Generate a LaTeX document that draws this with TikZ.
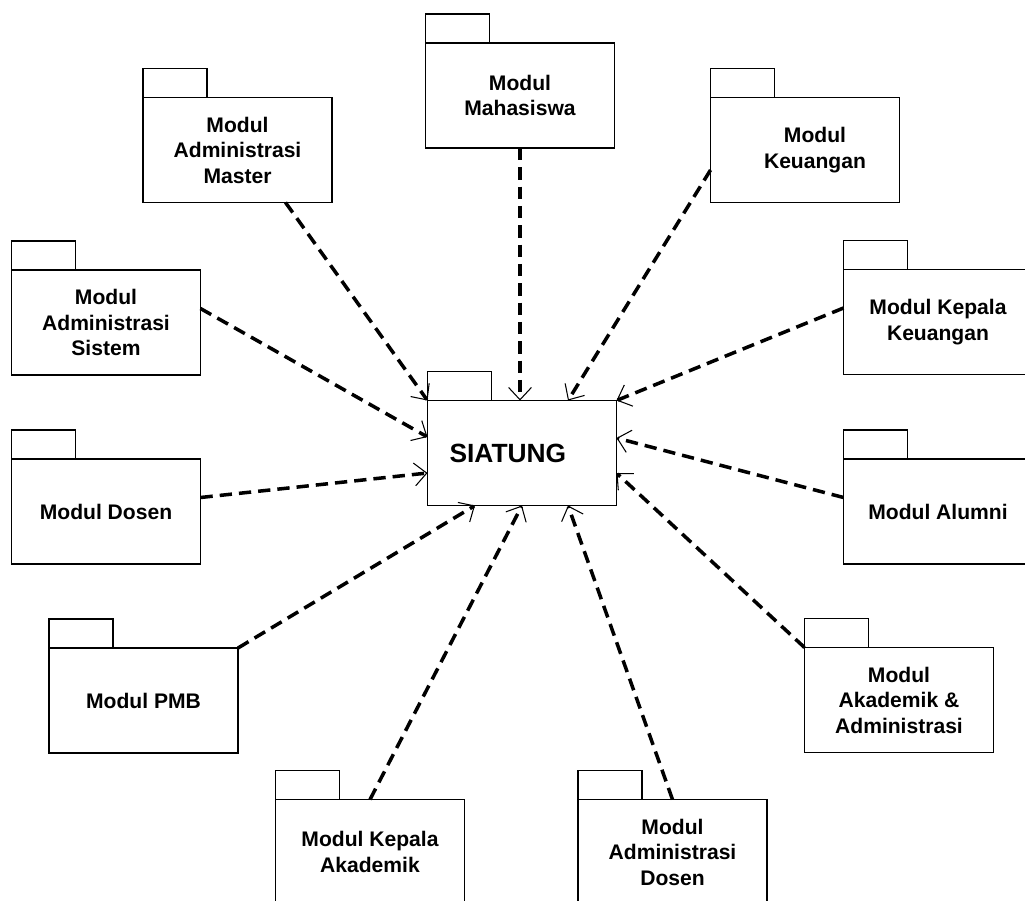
\documentclass[tikz,border=0pt]{standalone}
\usepackage{fontspec}
\setmainfont{Liberation Sans}
\usetikzlibrary{arrows.meta,calc}

\begin{document}
\begin{tikzpicture}[
  x=0.02cm, y=-0.02cm,
  font=\bfseries\fontsize{12}{14.5}\selectfont,
  pkg/.style={draw, line width=1pt, fill=white, align=center, outer sep=0pt,
              minimum width=3.78cm, minimum height=2.1cm, inner sep=2pt},
  core/.style={pkg, font=\bfseries\fontsize{15}{18}\selectfont,
               text width=2.9cm, align=left, inner xsep=0.44cm},
  tab/.style={draw, line width=1pt},
  dep/.style={line width=2pt, dash pattern=on 7pt off 4pt,
              -{Straight Barb[length=7pt, width=13pt, line width=0.6pt]}}
]
\clip (0,0) rectangle (1025,900);

\node[pkg] (mhs) at (520,95.5) {Modul\\Mahasiswa};
\node[pkg] (admMaster) at (237.5,150) {Modul\\Administrasi\\Master};
\node[pkg] (keu) at (805,150) {\hspace*{0.4cm}Modul\\\hspace*{0.4cm}Keuangan};
\node[pkg] (admSistem) at (106,322.5) {Modul\\Administrasi\\Sistem};
\node[pkg] (kepKeu) at (938,322) {Modul Kepala\\Keuangan};
\node[pkg] (dosen) at (106,511.5) {Modul Dosen};
\node[pkg] (alumni) at (938,511.5) {Modul Alumni};
\node[pkg] (pmb) at (143.5,700.5) {Modul PMB};
\node[pkg] (akadm) at (899,700) {Modul\\Akademik \&\\Administrasi};
\node[pkg] (kepAkd) at (370,852) {Modul Kepala\\Akademik};
\node[pkg] (admDosen) at (672.5,852) {Modul\\Administrasi\\Dosen};
\node[core] (sia) at (522,453) {SIATUNG};

\foreach \p in {mhs,admMaster,keu,admSistem,kepKeu,dosen,alumni,pmb,akadm,kepAkd,admDosen,sia}
  \draw[tab] (\p.north west) rectangle ++(64,-29);

\draw[dep] ($(admMaster.south)+(48,0)$) -- (sia.north west);
\draw[dep] (mhs.south) -- (mhs.south |- sia.north);
\draw[dep] ($(keu.west)+(0,20)$) -- ($(sia.north)+(46,0)$);
\draw[dep] ($(admSistem.east)+(0,-14)$) -- ($(sia.west)+(0,-16)$);
\draw[dep] ($(kepKeu.west)+(0,-14)$) -- (sia.north east);
\draw[dep] ($(dosen.east)+(0,-14)$) -- ($(sia.west)+(0,20)$);
\draw[dep] ($(alumni.west)+(0,-14)$) -- ($(sia.east)+(0,-15)$);
\draw[dep] (pmb.north east) -- ($(sia.south)+(-47,0)$);
\draw[dep] (akadm.north west) -- ($(sia.east)+(0,20)$);
\draw[dep] (kepAkd.north) -- (sia.south);
\draw[dep] (admDosen.north) -- ($(sia.south)+(46,0)$);

\end{tikzpicture}
\end{document}
